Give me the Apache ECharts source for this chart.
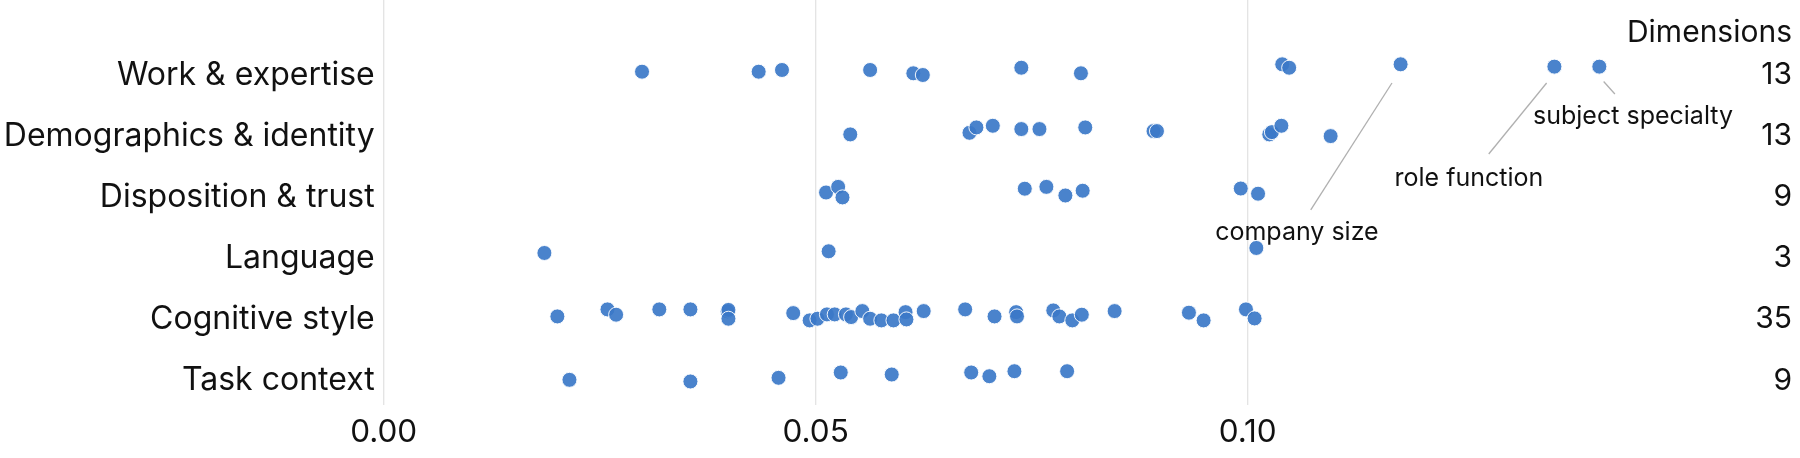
<!DOCTYPE html>
<html>
<head>
<meta charset="utf-8">
<script src="https://cdn.jsdelivr.net/npm/echarts@6/dist/echarts.min.js"></script>
<style>
html,body{margin:0;padding:0;background:#fff;}
#chart{width:1800px;height:458px;}
</style>
</head>
<body>
<div id="chart"></div>
<script>
// ---- data ----
const categories = ['Work & expertise', 'Demographics & identity', 'Disposition & trust', 'Language', 'Cognitive style', 'Task context'];
const dimensionCounts = [13, 13, 9, 3, 35, 9];
const xTickValues = [0, 0.05, 0.10];

// effect sizes per category (x) and vertical jitter (in row units)
const workX = [0.0299, 0.0434, 0.0461, 0.0563, 0.0613, 0.0624, 0.0738, 0.0807, 0.1040, 0.1048, 0.1177, 0.1355, 0.1407];
const workJitter = [-0.054, -0.054, -0.082, -0.082, -0.028, 0, -0.119, -0.028, -0.175, -0.119, -0.175, -0.137, -0.137];
const demoX = [0.0540, 0.0678, 0.0686, 0.0705, 0.0738, 0.0759, 0.0812, 0.0891, 0.0895, 0.1025, 0.1028, 0.1039, 0.1096];
const demoJitter = [-0.028, -0.054, -0.142, -0.169, -0.115, -0.115, -0.142, -0.082, -0.082, -0.028, -0.065, -0.169, 0];
const dispX = [0.0512, 0.0526, 0.0531, 0.0742, 0.0767, 0.0789, 0.0809, 0.0992, 0.1012];
const dispJitter = [-0.077, -0.169, 0.003, -0.139, -0.169, -0.028, -0.106, -0.142, -0.057];
const langX = [0.0186, 0.0515, 0.1010];
const langJitter = [-0.087, -0.115, -0.169];
const cogX = [0.0201, 0.0259, 0.0269, 0.0319, 0.0355, 0.0398, 0.0399, 0.0399, 0.0474, 0.0493, 0.0502, 0.0513, 0.0522, 0.0535, 0.0541, 0.0554, 0.0563, 0.0576, 0.0590, 0.0604, 0.0605, 0.0625, 0.0673, 0.0707, 0.0732, 0.0733, 0.0775, 0.0782, 0.0797, 0.0808, 0.0846, 0.0932, 0.0949, 0.0998, 0.1008];
const cogJitter = [-0.049, -0.164, -0.077, -0.164, -0.164, -0.131, -0.155, -0.011, -0.103, 0.016, -0.011, -0.082, -0.082, -0.082, -0.038, -0.136, -0.011, 0.016, 0.016, -0.119, 0, -0.136, -0.164, -0.049, -0.119, -0.049, -0.147, -0.049, 0.016, -0.077, -0.136, -0.110, 0.016, -0.164, -0.016];
const taskX = [0.0215, 0.0355, 0.0457, 0.0529, 0.0588, 0.0680, 0.0701, 0.0730, 0.0791];
const taskJitter = [-0.011, 0.016, -0.044, -0.131, -0.098, -0.131, -0.070, -0.152, -0.152];

// annotations: label text, label position, leader line start/end (data coords: x value, row units)
const annotationText = ['subject specialty', 'role function', 'company size'];
const annotationTextPos = [[0.1446, 0.679], [0.1256, 1.686], [0.1057, 2.578]];
const annotationLineFrom = [[0.1412, 0.106], [0.1346, 0.131], [0.1167, 0.131]];
const annotationLineTo = [[0.1425, 0.311], [0.1279, 1.293], [0.1073, 2.209]];

// ---- build ----
const rowsX = [workX, demoX, dispX, langX, cogX, taskX];
const rowsJ = [workJitter, demoJitter, dispJitter, langJitter, cogJitter, taskJitter];
const points = [];
rowsX.forEach((xs, r) => xs.forEach((x, k) => points.push([x, r + rowsJ[r][k]])));

const Y_MIN = -1.2275, Y_MAX = 5.401;
const X_MAX = 0.148;
const FONT = 'Inter';

const chart = echarts.init(document.getElementById('chart'), null, {renderer: 'canvas'});
chart.setOption({
  animation: false,
  backgroundColor: '#fff',
  textStyle: {fontFamily: FONT},
  grid: {left: 383.7, right: 137.6, top: 0, bottom: 53, containLabel: false},
  xAxis: {
    type: 'value', min: 0, max: X_MAX,
    axisLine: {show: false}, axisTick: {show: false}, splitLine: {show: false},
    axisLabel: {
      customValues: xTickValues,
      formatter: v => v.toFixed(2),
      fontFamily: FONT, fontSize: 31.5, color: '#111', margin: 12
    }
  },
  yAxis: [{
    type: 'value', min: Y_MIN, max: Y_MAX, inverse: true,
    axisLine: {show: false}, axisTick: {show: false}, splitLine: {show: false},
    axisLabel: {
      customValues: [0, 1, 2, 3, 4, 5],
      formatter: v => categories[Math.round(v)],
      fontFamily: FONT, fontSize: 32, color: '#111', margin: 9
    }
  }, {
    type: 'value', min: Y_MIN, max: Y_MAX, inverse: true, position: 'right',
    axisLine: {show: false}, axisTick: {show: false}, splitLine: {show: false},
    axisLabel: {
      customValues: [0, 1, 2, 3, 4, 5],
      formatter: v => String(dimensionCounts[Math.round(v)]),
      align: 'right',
      fontFamily: FONT, fontSize: 30, color: '#111', margin: 129.6
    }
  }],
  graphic: [{
    type: 'text', x: 1792, y: 33,
    style: {text: 'Dimensions', font: '30px Inter', fill: '#111', align: 'right', verticalAlign: 'middle'}
  }],
  series: [{
    type: 'custom', z: 1, silent: true,
    data: xTickValues.map(v => [v, 0]),
    clip: false,
    renderItem: (params, api) => {
      const v = api.value(0);
      const a = api.coord([v, Y_MIN]);
      const b = api.coord([v, Y_MAX]);
      return {type: 'line', shape: {x1: a[0], y1: a[1], x2: b[0], y2: b[1]},
        style: {stroke: '#e3e3e3', lineWidth: 1.3}};
    }
  }, {
    type: 'scatter', z: 3,
    data: points,
    symbolSize: 15,
    itemStyle: {color: '#3b78c8', opacity: 0.92, borderColor: '#fff', borderWidth: 1}
  }, {
    type: 'custom', z: 2, silent: true, clip: false,
    data: annotationTextPos,
    renderItem: (params, api) => {
      const i = params.dataIndex;
      const t = api.coord(annotationTextPos[i]);
      const p1 = api.coord(annotationLineFrom[i]);
      const p2 = api.coord(annotationLineTo[i]);
      return {type: 'group', children: [
        {type: 'line', shape: {x1: p1[0], y1: p1[1], x2: p2[0], y2: p2[1]},
          style: {stroke: '#b0b0b0', lineWidth: 1.3}},
        {type: 'text', x: t[0], y: t[1],
          style: {text: annotationText[i], font: '25px Inter', fill: '#111', align: 'center', verticalAlign: 'middle'}}
      ]};
    }
  }]
});
</script>
</body>
</html>
